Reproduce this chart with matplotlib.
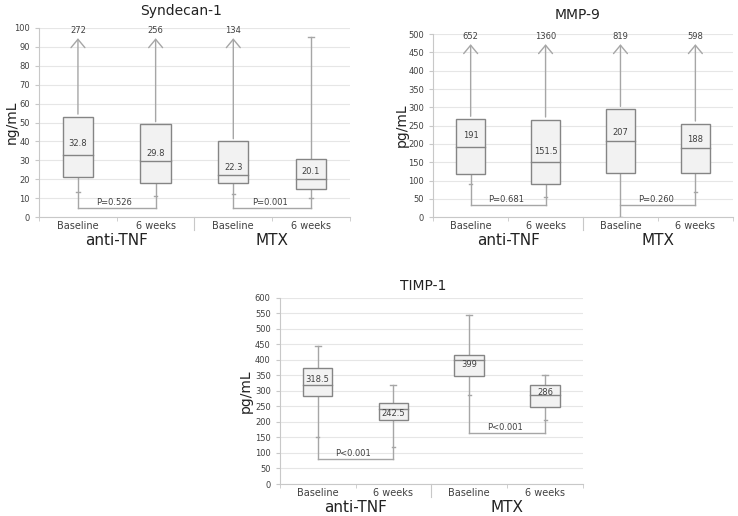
import matplotlib
matplotlib.use("Agg")
import matplotlib.pyplot as plt
import numpy as np

# ---- data ----
time_labels = ["Baseline", "6 weeks", "Baseline", "6 weeks"]
group_labels = ["anti-TNF", "MTX"]

syn_q1 = [21, 18, 18, 15]
syn_med = [32.8, 29.8, 22.3, 20.1]
syn_q3 = [53, 49, 40, 30.5]
syn_low = [13.5, 11, 12.5, 10]
syn_high = [272, 256, 134, 95]
syn_p = ["P=0.526", "P=0.001"]
syn_bracket = [5, 5]

mmp_q1 = [118, 90, 122, 122]
mmp_med = [191, 151.5, 207, 188]
mmp_q3 = [268, 266, 295, 255]
mmp_low = [90, 55, 0, 68]
mmp_high = [652, 1360, 819, 598]
mmp_p = ["P=0.681", "P=0.260"]
mmp_bracket = [33, 33]

timp_q1 = [283, 207, 348, 248]
timp_med = [318.5, 242.5, 399, 286]
timp_q3 = [375, 262, 416, 318]
timp_low = [150, 120, 288, 207]
timp_high = [443, 320, 545, 352]
timp_p = ["P<0.001", "P<0.001"]
timp_bracket = [80, 165]

EDGE = "#858585"
FILL = "#f2f2f2"
WHISK = "#a6a6a6"
TXT = "#404040"


def draw_panel(ax, title, ylabel, ymax, ystep, q1, med, q3, low, high,
               pvals, brackets, med_off, title_xy, ylab_x):
    pos = np.arange(1, 5)
    ax.set_xlim(0.5, 4.5)
    ax.set_ylim(0, ymax)
    ax.set_yticks(np.arange(0, ymax + 1, ystep))
    ax.yaxis.grid(True, color="#e6e6e6", lw=0.8)
    ax.set_axisbelow(True)
    for s in ["top", "right"]:
        ax.spines[s].set_visible(False)
    for s in ["left", "bottom"]:
        ax.spines[s].set_color("#c8c8c8")
    ax.tick_params(axis="y", labelsize=6, colors="#c8c8c8", labelcolor=TXT,
                   length=3, width=0.8)
    ax.set_xticks(pos)
    ax.set_xticklabels(time_labels, fontsize=7, color=TXT)
    ax.tick_params(axis="x", length=0, pad=3)
    ax.set_xticks([0.5, 1.5, 2.5, 3.5, 4.5], minor=True)
    ax.tick_params(axis="x", which="minor", length=3, color="#c8c8c8")
    ax.plot([2.5, 2.5], [0, -0.07], transform=ax.get_xaxis_transform(),
            color="#c8c8c8", lw=0.8, clip_on=False)
    for i, g in enumerate(group_labels):
        ax.annotate(g, xy=(1.5 + 2 * i, 0), xycoords=ax.get_xaxis_transform(),
                    xytext=(0, -17), textcoords="offset points",
                    ha="center", va="center", fontsize=11, color="#222222")
    ax.set_ylabel(ylabel, fontsize=10, color="#222222")
    ax.yaxis.set_label_coords(ylab_x, 0.5)
    ax.figure.text(title_xy[0], title_xy[1], title, ha="center", va="center",
                   fontsize=10, color="#222222")

    w = 0.39
    cap = 0.04
    top = ymax * 0.96
    for i, x in enumerate(pos):
        # box
        ax.add_patch(plt.Rectangle((x - w / 2, q1[i]), w, q3[i] - q1[i],
                                   facecolor=FILL, edgecolor=EDGE, lw=1.0, zorder=3))
        ax.plot([x - w / 2, x + w / 2], [med[i], med[i]], color=EDGE, lw=1.0, zorder=4)
        ax.text(x, med[i] + med_off[i] * ymax, f"{med[i]:g}", ha="center",
                va="center", fontsize=6, color=TXT, zorder=5)
        # upper whisker
        if high[i] > ymax:
            ax.annotate("", xy=(x, top), xytext=(x, q3[i]),
                        arrowprops=dict(arrowstyle="->,head_width=0.5,head_length=0.6",
                                        color=WHISK, lw=1.0), zorder=2)
            ax.text(x, ymax * 0.985, f"{high[i]:g}", ha="center", va="center",
                    fontsize=6, color=TXT, clip_on=False)
        else:
            ax.plot([x, x], [q3[i], high[i]], color=WHISK, lw=1.0, zorder=2)
            ax.plot([x - cap, x + cap], [high[i], high[i]], color=WHISK, lw=1.0)
        # lower whisker down to the bracket
        b = brackets[i // 2]
        ax.plot([x, x], [q1[i], min(low[i], b)], color=WHISK, lw=1.0, zorder=2)
        ax.plot([x - cap / 2, x + cap / 2], [low[i], low[i]], color=WHISK, lw=1.0)

    for k in range(2):
        x1, x2 = pos[2 * k], pos[2 * k + 1]
        ax.plot([x1, x2], [brackets[k], brackets[k]], color=WHISK, lw=1.0, zorder=2)
        ax.text((x1 + x2) / 2 - 0.03, brackets[k] + 0.03 * ymax, pvals[k],
                ha="center", va="center", fontsize=6, color=TXT)


fig = plt.figure(figsize=(7.38, 5.16), dpi=100)

ax1 = fig.add_axes([0.053, 0.579, 0.421, 0.367])
draw_panel(ax1, "Syndecan-1", "ng/mL", 100, 10, syn_q1, syn_med, syn_q3,
           syn_low, syn_high, syn_p, syn_bracket,
           [0.06, 0.04, 0.04, 0.04], (0.245, 0.978), -0.067)

ax2 = fig.add_axes([0.587, 0.579, 0.406, 0.355])
draw_panel(ax2, "MMP-9", "pg/mL", 500, 50, mmp_q1, mmp_med, mmp_q3,
           mmp_low, mmp_high, mmp_p, mmp_bracket,
           [0.062, 0.058, 0.05, 0.05], (0.782, 0.97), -0.08)

ax3 = fig.add_axes([0.379, 0.062, 0.411, 0.361])
draw_panel(ax3, "TIMP-1", "pg/mL", 600, 50, timp_q1, timp_med, timp_q3,
           timp_low, timp_high, timp_p, timp_bracket,
           [0.028, -0.027, -0.023, 0.015], (0.573, 0.445), -0.09)

fig.savefig("out.png", dpi=100)
